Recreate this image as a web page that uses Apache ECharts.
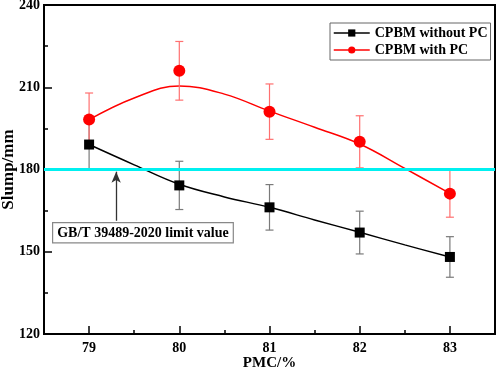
<!DOCTYPE html>
<html>
<head>
<meta charset="utf-8">
<script src="https://cdn.jsdelivr.net/npm/echarts@6/dist/echarts.min.js"></script>
<style>
  html, body { margin: 0; padding: 0; background: #fff; }
  #chart { width: 498px; height: 367px; }
</style>
</head>
<body>
<div id="chart"></div>
<script>
// measured points (PMC %)
const pmc = [79, 80, 81, 82, 83]
const slumpNoPC = [189.1, 174.2, 166.2, 157.0, 148.1]
const errNoPC = [9.0, 8.8, 8.3, 7.8, 7.4]
const slumpPC = [198.2, 216.0, 201.1, 190.1, 171.2]
const errPC = [9.7, 10.7, 10.1, 9.5, 8.6]

// fitted curves
const fitX = [79, 79.5, 80, 80.5, 81, 81.5, 82, 82.5, 83]
const fitNoPC = [189.1, 181.7, 174.6, 170.0, 166.2, 161.6, 157.1, 152.5, 148.1]
const fitPC = [198.2, 206.1, 210.5, 207.5, 201.3, 195.4, 189.3, 180.4, 171.3]

const xMajor = [79, 80, 81, 82, 83]
const xMinor = [79.5, 80.5, 81.5, 82.5]
const limitValue = 180
const arrowX = 79.3
const arrowFrom = 161.3

const serif = '"Liberation Serif", "Times New Roman", serif'

const zip = (xs, ys) => xs.map((x, i) => [x, ys[i]])
const zip3 = (xs, ys, es) => xs.map((x, i) => [x, ys[i], es[i]])

function errorBars(color) {
  return function (params, api) {
    const x = api.value(0)
    const y = api.value(1)
    const e = api.value(2)
    const hi = api.coord([x, y + e])
    const lo = api.coord([x, y - e])
    const cap = 4
    const style = { stroke: color, lineWidth: 1.2, fill: null }
    return {
      type: 'group',
      children: [
        { type: 'line', shape: { x1: hi[0], y1: hi[1], x2: lo[0], y2: lo[1] }, style },
        { type: 'line', shape: { x1: hi[0] - cap, y1: hi[1], x2: hi[0] + cap, y2: hi[1] }, style },
        { type: 'line', shape: { x1: lo[0] - cap, y1: lo[1], x2: lo[0] + cap, y2: lo[1] }, style }
      ]
    }
  }
}

const chart = echarts.init(document.getElementById('chart'))

chart.setOption({
  animation: false,
  backgroundColor: '#fff',
  textStyle: { fontFamily: serif },
  grid: {
    left: 44,
    right: 3,
    top: 5,
    bottom: 33,
    containLabel: false,
    outerBoundsMode: 'none',
    show: true,
    borderColor: '#000',
    borderWidth: 2
  },
  legend: {
    orient: 'vertical',
    left: 330,
    top: 23,
    itemWidth: 36,
    itemHeight: 9,
    itemGap: 3,
    padding: [3, 3, 3, 3],
    borderColor: '#666',
    borderWidth: 1,
    backgroundColor: '#fff',
    data: ['CPBM without PC', 'CPBM with PC'],
    lineStyle: { width: 1.5, opacity: 1 },
    textStyle: { fontFamily: serif, fontSize: 14, fontWeight: 'bold', color: '#000' }
  },
  xAxis: [
    {
      type: 'value',
      min: 78.5,
      max: 83.5,
      interval: 0.5,
      name: 'PMC/%',
      nameLocation: 'middle',
      nameGap: 22,
      nameMoveOverlap: false,
      nameTextStyle: { fontFamily: serif, fontSize: 15, fontWeight: 'bold', color: '#000' },
      axisLine: { lineStyle: { color: '#000', width: 2 } },
      axisTick: { inside: true, length: 8, customValues: xMajor, lineStyle: { color: '#000', width: 1.5 } },
      axisLabel: {
        customValues: xMajor,
        margin: 7,
        fontFamily: serif, fontSize: 14, fontWeight: 'bold', color: '#000'
      },
      splitLine: { show: false }
    },
    {
      type: 'value',
      position: 'bottom',
      min: 78.5,
      max: 83.5,
      interval: 0.5,
      axisLine: { show: false },
      axisTick: { inside: true, length: 4, customValues: xMinor, lineStyle: { color: '#000', width: 1.5 } },
      axisLabel: { show: false },
      splitLine: { show: false }
    }
  ],
  yAxis: {
    type: 'value',
    min: 120,
    max: 240,
    interval: 30,
    name: 'Slump/mm',
    nameLocation: 'middle',
    nameGap: 27,
    nameMoveOverlap: false,
    nameTextStyle: { fontFamily: serif, fontSize: 17, fontWeight: 'bold', color: '#000' },
    axisLine: { show: true, lineStyle: { color: '#000', width: 2 } },
    axisTick: { inside: true, length: 8, lineStyle: { color: '#000', width: 1.5 } },
    minorTick: { show: true, splitNumber: 2, length: 4, lineStyle: { color: '#000', width: 1.5 } },
    axisLabel: { margin: 4, fontFamily: serif, fontSize: 14, fontWeight: 'bold', color: '#000' },
    splitLine: { show: false }
  },
  graphic: [
    {
      type: 'text',
      left: 52,
      top: 222,
      z: 100,
      style: {
        text: 'GB/T 39489-2020 limit value',
        font: 'bold 14px ' + serif,
        fill: '#000',
        backgroundColor: '#fff',
        borderColor: '#888',
        borderWidth: 1.2,
        padding: [3, 4, 2, 4]
      }
    }
  ],
  series: [
    {
      type: 'line',
      name: 'fitNoPC',
      data: zip(fitX, fitNoPC),
      smooth: 0.4,
      showSymbol: false,
      silent: true,
      lineStyle: { color: '#000', width: 1.5 },
      z: 2
    },
    {
      type: 'line',
      name: 'fitPC',
      data: zip(fitX, fitPC),
      smooth: 0.4,
      showSymbol: false,
      silent: true,
      lineStyle: { color: '#ff0000', width: 1.5 },
      z: 2,
      markLine: {
        silent: true,
        symbol: 'none',
        label: { show: false },
        data: [
          { yAxis: limitValue, lineStyle: { color: '#00f0f0', width: 3, type: 'solid' } },
          [
            { coord: [arrowX, arrowFrom], symbol: 'none', lineStyle: { color: '#333', width: 1.3, type: 'solid' } },
            { coord: [arrowX, limitValue - 0.8], symbol: 'arrow', symbolSize: [7, 11] }
          ]
        ]
      }
    },
    {
      type: 'custom',
      name: 'errNoPC',
      data: zip3(pmc, slumpNoPC, errNoPC),
      renderItem: errorBars('#7a7a7a'),
      silent: true,
      z: 3
    },
    {
      type: 'custom',
      name: 'errPC',
      data: zip3(pmc, slumpPC, errPC),
      renderItem: errorBars('#ff7070'),
      silent: true,
      z: 3
    },
    {
      type: 'line',
      name: 'CPBM without PC',
      data: zip(pmc, slumpNoPC),
      symbol: 'rect',
      symbolSize: 10,
      lineStyle: { width: 0, color: '#000' },
      itemStyle: { color: '#000' },
      z: 5
    },
    {
      type: 'line',
      name: 'CPBM with PC',
      data: zip(pmc, slumpPC),
      symbol: 'circle',
      symbolSize: 12,
      lineStyle: { width: 0, color: '#ff0000' },
      itemStyle: { color: '#ff0000' },
      z: 5
    }
  ]
})
</script>
</body>
</html>
